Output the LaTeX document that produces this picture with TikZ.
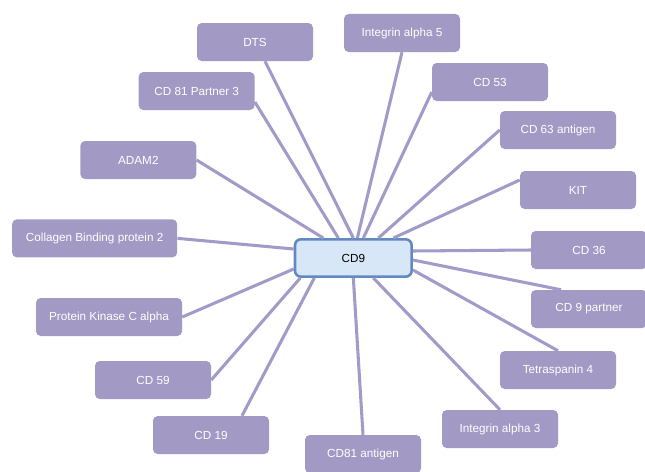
\documentclass[tikz,border=0pt]{standalone}
\usepackage{fontspec}
\setmainfont{Liberation Sans}
\definecolor{PartnerViolet}{HTML}{A29AC4}
\definecolor{LinkViolet}{HTML}{A09BC8}
\definecolor{HubBlue}{HTML}{D8E7F7}
\definecolor{HubEdge}{HTML}{6289C2}
\usetikzlibrary{calc}

\begin{document}
\begin{tikzpicture}[
        partner/.style={fill=PartnerViolet, rounded corners=4pt, minimum width=3.48cm, minimum height=1.14cm, align=center, text=white, font=\normalsize},
        hub/.style={draw=HubEdge, fill=HubBlue, rounded corners=5pt, minimum width=3.5cm, minimum height=1.12cm, line width=2.2pt, font=\normalsize},
        link/.style={LinkViolet, line width=2.6pt}
    ]
        \useasboundingbox (0,0) rectangle (19.35,14.13);
        \node[hub]      (cd9)    at (10.60, 6.39) {CD9};
        \node[partner]  (dts)    at (7.65, 12.87) {DTS};
        \node[partner]  (itga5)  at (12.06, 13.14) {Integrin alpha 5};
        \node[partner]  (cd53)   at (14.70, 11.67) {CD 53};
        \node[partner]  (cd63)   at (16.74, 10.23) {CD 63 antigen};
        \node[partner]  (kit)    at (17.34, 8.43) {KIT};
        \node[partner]  (cd36)   at (17.67, 6.63) {CD 36};
        \node[partner]  (cd9p)   at (17.67, 4.86) {CD 9 partner};
        \node[partner]  (tspan4) at (16.74, 3.03) {Tetraspanin 4};
        \node[partner]  (itga3)  at (15.00, 1.26) {Integrin alpha 3};
        \node[partner]  (cd81ag) at (10.89, 0.51) {CD81 antigen};
        \node[partner]  (cd19)   at (6.33, 1.08) {CD 19};
        \node[partner]  (cd59)   at (4.59, 2.73) {CD 59};
        \node[partner, minimum width=4.38cm] (pkc) at (3.27, 4.62) {Protein Kinase C alpha};
        \node[partner, minimum width=4.95cm] (colbp2) at (2.84, 6.98) {Collagen Binding protein 2};
        \node[partner]  (adam2)  at (4.15, 9.33) {ADAM2};
        \node[partner]  (cd81p3) at (5.90, 11.40) {CD 81 Partner 3};
        \draw[link] ([xshift=0.30cm]dts.south) -- (cd9.north);
        \draw[link] ([yshift=-0.33cm]cd81p3.east) -- ([xshift=-0.45cm]cd9.north);
        \draw[link] (itga5.south) -- ([xshift=0.12cm]cd9.north);
        \draw[link] ([yshift=-0.30cm]cd53.west) -- ([xshift=0.30cm]cd9.north);
        \draw[link] (cd63.west) -- ([xshift=0.75cm]cd9.north);
        \draw[link] ([yshift=0.30cm]kit.west) -- ([xshift=1.20cm]cd9.north);
        \draw[link] (cd36.west) -- ([yshift=0.21cm]cd9.east);
        \draw[link] ([xshift=-0.84cm]cd9p.north) -- ([yshift=-0.06cm]cd9.east);
        \draw[link] (tspan4.north) -- ([yshift=-0.36cm]cd9.east);
        \draw[link] (itga3.north) -- ([xshift=0.60cm]cd9.south);
        \draw[link] (cd81ag.north) -- (cd9.south);
        \draw[link] ([xshift=0.93cm]cd19.north) -- ([xshift=-1.17cm]cd9.south);
        \draw[link] (cd59.east) -- ([xshift=-1.59cm]cd9.south);
        \draw[link] (pkc.east) -- ([yshift=-0.33cm]cd9.west);
        \draw[link] (colbp2.east) -- ([yshift=0.27cm]cd9.west);
        \draw[link] (adam2.east) -- ([xshift=-0.90cm]cd9.north);
    \end{tikzpicture}
\end{document}
